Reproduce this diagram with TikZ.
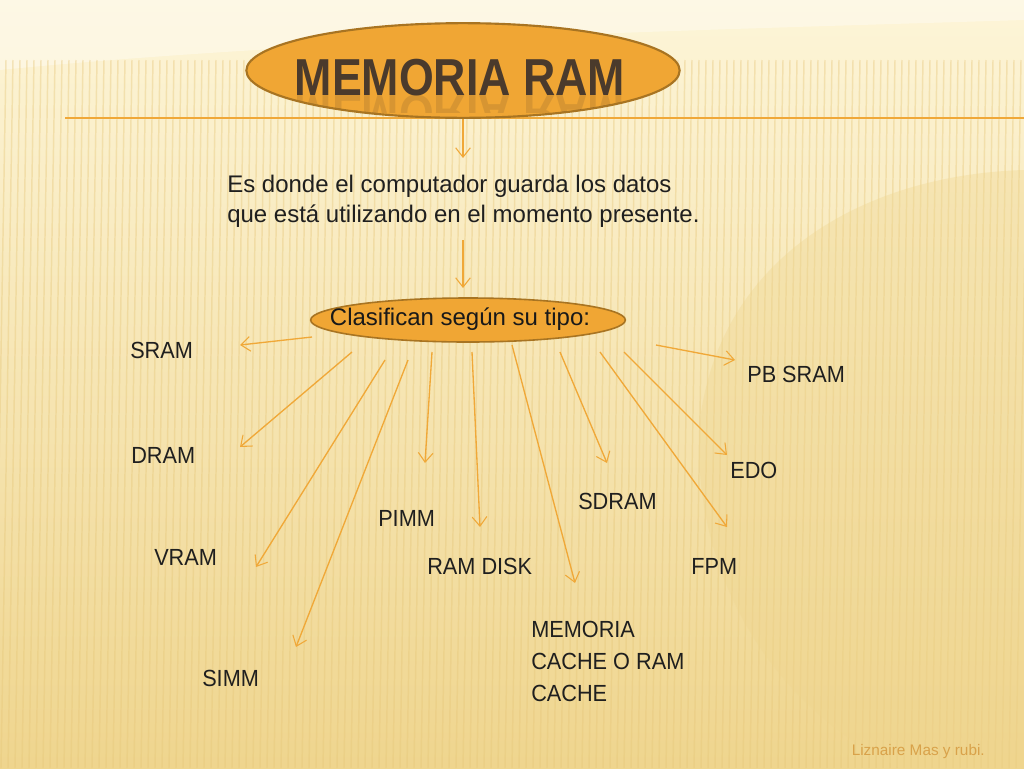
\documentclass[tikz,border=0pt]{standalone}
\usepackage{fontspec}
\setmainfont{Liberation Sans}
\newfontfamily\titlefont[FakeStretch=0.86]{Liberation Sans}
\newfontfamily\bodyfont[FakeStretch=0.93]{Liberation Sans}
\usetikzlibrary{arrows.meta,shapes.geometric}
\definecolor{bgtop}{HTML}{FDF5D8}
\definecolor{bgbot}{HTML}{EFD58E}
\definecolor{stripe}{HTML}{E6C77A}
\definecolor{ellfill}{HTML}{F0A634}
\definecolor{elledge}{HTML}{A87422}
\definecolor{arrowc}{HTML}{F0A838}
\definecolor{titlec}{HTML}{4A3A2C}
\definecolor{footc}{HTML}{D9A24A}
\tikzset{
  conn/.style={draw=arrowc, line width=1pt, -{Straight Barb[length=7pt,width=11pt,line width=0.8pt]}},
  lbl/.style={anchor=west, inner sep=0pt, text=black!88, font=\bodyfont\fontsize{17.5}{24}\selectfont},
  ell/.style={ellipse, fill=ellfill, draw=elledge, line width=1.4pt, inner sep=0pt},
}
\begin{document}
\begin{tikzpicture}[x=0.75pt,y=-0.75pt]
\useasboundingbox (0,0) rectangle (1024,768);
% background
\shade[top color=bgtop, bottom color=bgbot] (0,0) rectangle (1024,768);
\fill[white, opacity=0.35] (1024,20) .. controls (700,30) and (300,40) .. (0,70) -- (0,0) -- (1024,0) -- cycle;
\foreach \i in {0,7,...,1024} {
  \draw[stripe, opacity=0.4, line width=1.1pt] (\i+6,60) -- (\i-6,768);
}
\fill[bgbot, opacity=0.35] (1024,170) .. controls (860,175) and (720,260) .. (700,420) .. controls (690,560) and (760,700) .. (900,768) -- (1024,768) -- cycle;
% horizontal rule
\draw[arrowc, line width=1pt] (65,118) -- (1024,118);
% title ellipse
\node[ell, minimum width=325pt, minimum height=71pt, line width=1.6pt] (title) at (463,70.5) {};
\begin{scope}
  \clip (463,70.5) ellipse [x radius=214, y radius=46];
  \clip (240,95) rectangle (690,112);
  \node[text=titlec, opacity=0.15, font=\titlefont\bfseries\fontsize{39}{40}\selectfont, anchor=base, yscale=-1, transform shape] at (460,95) {MEMORIA RAM};
\end{scope}
\node[text=titlec, font=\titlefont\bfseries\fontsize{39}{40}\selectfont, anchor=base] (titletxt) at (460,95) {MEMORIA RAM};
% description
\node[anchor=north west, inner sep=0pt, align=left, text=black!88, font=\fontsize{18}{22.5}\selectfont] (desc) at (227,174.5) {Es donde el computador guarda los datos\\que está utilizando en el momento presente.};
% classify ellipse
\node[ell, minimum width=236pt, minimum height=33pt, line width=1.2pt] (clas) at (468,320) {};
\node[font=\fontsize{18}{22}\selectfont, text=black!90] (clastxt) at (460,319) {Clasifican según su tipo:};
% labels
\node[lbl] (sram) at (130,350) {SRAM};
\node[lbl] (dram) at (131,455) {DRAM};
\node[lbl] (vram) at (154,557) {VRAM};
\node[lbl] (simm) at (202,678) {SIMM};
\node[lbl] (pimm) at (378,518) {PIMM};
\node[lbl] (ramdisk) at (427,566) {RAM DISK};
\node[lbl, anchor=north west, align=left] (cache) at (531,621) {MEMORIA\\CACHE O RAM\\CACHE};
\node[lbl] (sdram) at (578,501) {SDRAM};
\node[lbl] (fpm) at (691,566) {FPM};
\node[lbl] (edo) at (730,470) {EDO};
\node[lbl] (pbsram) at (747,374) {PB SRAM};
\node[anchor=east, inner sep=0pt, text=footc, font=\fontsize{11.5}{13}\selectfont] (foot) at (985,752) {Liznaire Mas y rubi.};
% arrow coordinates
\coordinate (a0s) at (463,119); \coordinate (a0e) at (463,158);
\coordinate (a1s) at (463,240); \coordinate (a1e) at (463,288);
\coordinate (s1) at (312,337); \coordinate (e1) at (240,345);
\coordinate (s2) at (352,352); \coordinate (e2) at (240,447);
\coordinate (s3) at (385,360); \coordinate (e3) at (256,567);
\coordinate (s4) at (408,360); \coordinate (e4) at (296,647);
\coordinate (s5) at (432,352); \coordinate (e5) at (425,463);
\coordinate (s6) at (472,352); \coordinate (e6) at (480,527);
\coordinate (s7) at (512,345); \coordinate (e7) at (575,583);
\coordinate (s8) at (560,352); \coordinate (e8) at (607,463);
\coordinate (s9) at (600,352); \coordinate (e9) at (727,527);
\coordinate (s10) at (624,352); \coordinate (e10) at (727,455);
\coordinate (s11) at (656,345); \coordinate (e11) at (735,360);
\draw[conn] (a0s) -- (a0e);
\draw[conn] (a1s) -- (a1e);
\foreach \k in {1,...,11} { \draw[conn] (s\k) -- (e\k); }
\end{tikzpicture}
\end{document}
